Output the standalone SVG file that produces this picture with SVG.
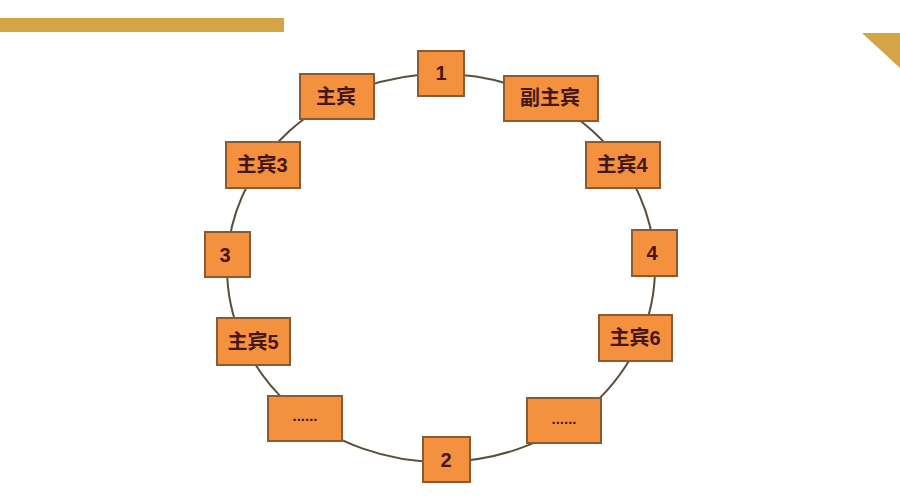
<svg xmlns="http://www.w3.org/2000/svg" width="900" height="500" viewBox="0 0 900 500">
<style>
.box{fill:#F4913F;stroke:#8A5A32;stroke-width:2}
.t{font-family:"Liberation Sans","Noto Sans CJK SC",sans-serif;font-weight:bold;font-size:20px;fill:#45161A;text-anchor:middle;dominant-baseline:central}
.d{font-size:15px}
.deco{fill:#D4A447}
</style>
<rect width="900" height="500" fill="#FFFFFF"/>
<rect class="deco" x="0" y="18" width="284" height="14"/>
<polygon class="deco" points="862,33 900,33 900,68"/>
<g id="connectors">
<ellipse cx="441" cy="268" rx="214" ry="194" fill="none" stroke="#5A4E3A" stroke-width="2"/>
</g>
<g id="n1"><rect class="box" x="418" y="51" width="46" height="45"/><text class="t" x="441" y="73">1</text></g>
<g id="n-zhubin"><rect class="box" x="300" y="74" width="74" height="45"/><text class="t" x="336" y="97">主宾</text></g>
<g id="n-fuzhubin"><rect class="box" x="504" y="76" width="94" height="45"/><text class="t" x="550" y="98">副主宾</text></g>
<g id="n-zhubin3"><rect class="box" x="226" y="142" width="74" height="46"/><text class="t" x="262" y="165">主宾3</text></g>
<g id="n-zhubin4"><rect class="box" x="586" y="142" width="74" height="46"/><text class="t" x="622" y="165">主宾4</text></g>
<g id="n3"><rect class="box" x="205" y="232" width="45" height="45"/><text class="t" x="225" y="255">3</text></g>
<g id="n4"><rect class="box" x="632" y="230" width="45" height="46"/><text class="t" x="652" y="253">4</text></g>
<g id="n-zhubin5"><rect class="box" x="217" y="318" width="73" height="47"/><text class="t" x="253" y="342">主宾5</text></g>
<g id="n-zhubin6"><rect class="box" x="599" y="315" width="73" height="46"/><text class="t" x="635" y="338">主宾6</text></g>
<g id="n-dots-left"><rect class="box" x="268" y="396" width="74" height="45"/><text class="t d" x="305" y="415">......</text></g>
<g id="n-dots-right"><rect class="box" x="527" y="398" width="74" height="45"/><text class="t d" x="564" y="418">......</text></g>
<g id="n2"><rect class="box" x="423" y="437" width="47" height="45"/><text class="t" x="446" y="460">2</text></g>
</svg>
